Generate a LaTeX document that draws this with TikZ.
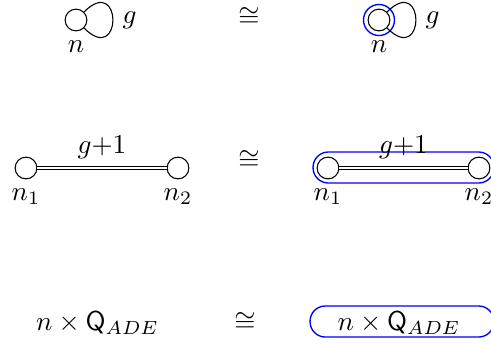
\documentclass[tikz,border=0pt]{standalone}
\begin{document}
\tikzset{
  vert/.style={circle,draw,minimum size=8pt,inner sep=0pt,line width=0.4pt},
  hilite/.style={draw=blue,line width=0.5pt},
  hbox/.style={hilite,rounded corners=5.6pt,minimum height=11.4pt,inner sep=0pt},
  selfloop/.style={out=45,in=-45,distance=20pt},
  iso/.style={anchor=base,inner sep=0pt},
}
\begin{tikzpicture}[x=0.3676pt,y=-0.3676pt]
\useasboundingbox (0,0) rectangle (491,343);
% row 1
\node[vert,label=below:$n$] (a) at (76,20) {};
\draw (a) to[selfloop] node[right]{$g$} (a);
\node[iso] (c1) at (249,25) {$\cong$};
\node[vert,label=below:$n$] (b) at (379,20) {};
\node[circle,hilite,minimum size=11.4pt,inner sep=0pt] (bh) at (b) {};
\draw (b) to[selfloop] node[right]{$g$} (b);
% row 2
\node[vert,label=below:$n_1$] (p1) at (26,168) {};
\node[vert,label=below:$n_2$] (p2) at (178,168) {};
\draw[double] (p1) -- node[above]{$g{+}1$} (p2);
\node[iso] (c2) at (249,168) {$\cong$};
\node[hbox,minimum width=66.5pt] (qbox) at (403.5,167.5) {};
\node[vert,label=below:$n_1$] (q1) at (328,168) {};
\node[vert,label=below:$n_2$] (q2) at (479,168) {};
\draw[double] (q1) -- node[above]{$g{+}1$} (q2);
% row 3
\node[anchor=base] (t1) at (97.5,330) {$n\times\mathsf{Q}_{ADE}$};
\node[iso] (c3) at (245,330) {$\cong$};
\node[hbox,minimum width=67.6pt] (rbox) at (402,321.5) {};
\node[anchor=base] (t2) at (399,330) {$n\times\mathsf{Q}_{ADE}$};
\end{tikzpicture}
\end{document}
